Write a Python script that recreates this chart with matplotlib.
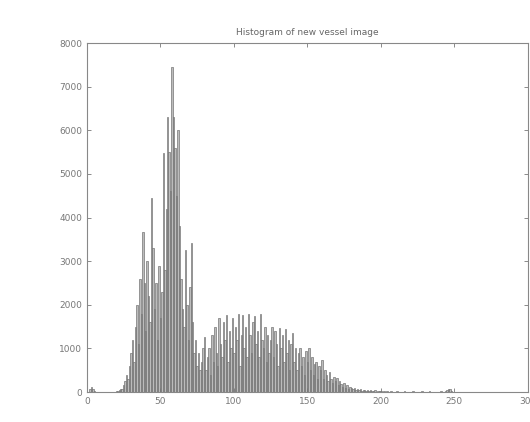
import numpy as np
import matplotlib
matplotlib.use("Agg")
import matplotlib.pyplot as plt

# grey-level histogram counts, one per level 0..255
counts_0_39 = [0, 0, 60, 120, 80, 30, 0, 0, 0, 0,
               0, 0, 0, 0, 0, 0, 0, 0, 0, 10,
               20, 30, 40, 60, 80, 150, 250, 400, 300, 600,
               900, 1200, 700, 1500, 2000, 1100, 2600, 1800, 3670, 2500]
counts_40_79 = [1400, 3000, 2200, 1600, 4450, 3300, 1900, 2500, 1200, 2900,
                1700, 2300, 5480, 2800, 4200, 6300, 5500, 4600, 7450, 6300,
                5600, 4500, 6000, 3800, 2600, 1900, 1500, 3250, 2000, 1200,
                2400, 3420, 1600, 900, 1200, 600, 900, 500, 700, 1000]
counts_80_119 = [1260, 500, 800, 1000, 400, 1300, 700, 1500, 900, 600,
                 1700, 1100, 800, 1600, 1200, 1770, 700, 1400, 1000, 1700,
                 900, 1500, 1200, 1800, 600, 1300, 1770, 1000, 1500, 800,
                 1800, 1300, 900, 1600, 1750, 1100, 1400, 800, 1800, 1200]
counts_120_159 = [1000, 1500, 700, 1300, 900, 1200, 1490, 800, 1400, 1100,
                  600, 1470, 1000, 1300, 700, 1450, 900, 1200, 500, 1100,
                  1350, 700, 1000, 500, 900, 1000, 600, 800, 400, 950,
                  700, 1000, 500, 800, 400, 650, 700, 300, 600, 500]
counts_160_199 = [730, 300, 500, 400, 250, 450, 300, 200, 350, 250,
                  320, 150, 250, 180, 120, 200, 100, 150, 80, 120,
                  90, 60, 100, 50, 70, 40, 60, 30, 50, 40,
                  30, 50, 20, 40, 30, 20, 40, 10, 30, 20]
counts_200_255 = [20, 10, 30, 0, 20, 10, 0, 20, 10, 0,
                  10, 20, 0, 10, 0, 10, 20, 0, 10, 0,
                  10, 0, 20, 10, 0, 10, 0, 10, 20, 0,
                  10, 0, 10, 20, 10, 0, 10, 0, 10, 0,
                  10, 20, 0, 10, 30, 50, 80, 60, 30, 10,
                  0, 10, 0, 10, 0, 0]

counts = np.array(counts_0_39 + counts_40_79 + counts_80_119 +
                  counts_120_159 + counts_160_199 + counts_200_255)
levels = np.arange(len(counts))

xticks = [0, 50, 100, 150, 200, 250, 300]
yticks = [0, 1000, 2000, 3000, 4000, 5000, 6000, 7000, 8000]

fig = plt.figure(figsize=(5.30, 4.22), dpi=100)
ax = fig.add_axes([0.164, 0.071, 0.832, 0.827])

ax.bar(levels, counts, width=1.0, color="#bcbcbc", edgecolor="#6a6a6a",
       linewidth=0.45)

ax.set_xlim(0, 300)
ax.set_ylim(0, 8000)
ax.set_xticks(xticks)
ax.set_yticks(yticks)
ax.tick_params(direction="in", length=3, top=True, right=True,
               labelsize=6.5, colors="#777777", width=0.6)
for s in ax.spines.values():
    s.set_color("#888888")
    s.set_linewidth(0.8)

ax.set_title("Histogram of new vessel image", fontsize=6.5, color="#666666", pad=6)

fig.savefig("out.png", dpi=100)
